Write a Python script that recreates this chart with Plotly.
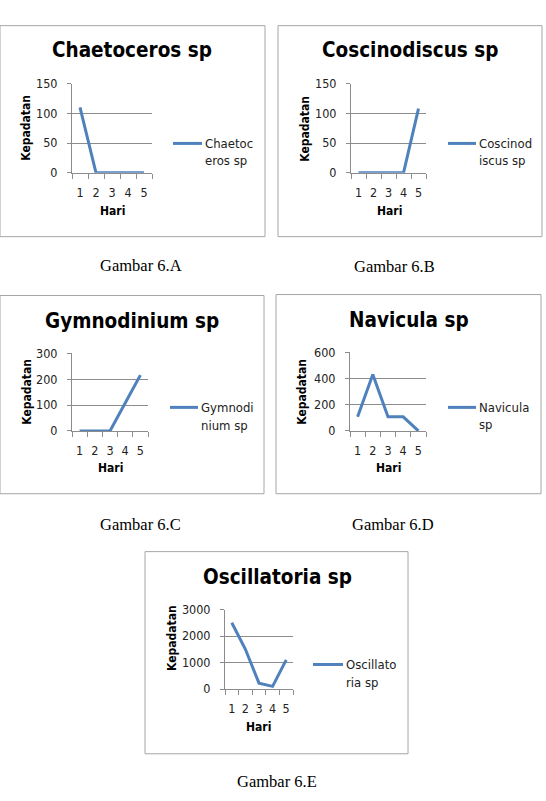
import plotly.graph_objects as go

W, H = 546, 801

days = [1, 2, 3, 4, 5]
day_labels = ["1", "2", "3", "4", "5"]

titles = ["Chaetoceros sp", "Coscinodiscus sp", "Gymnodinium sp", "Navicula sp", "Oscillatoria sp"]
legend_lines = [["Chaetoc", "eros sp"], ["Coscinod", "iscus sp"], ["Gymnodi", "nium sp"],
                ["Navicula", "sp"], ["Oscillato", "ria sp"]]
captions = ["Gambar 6.A", "Gambar 6.B", "Gambar 6.C", "Gambar 6.D", "Gambar 6.E"]

chaetoceros = [110, 0, 0, 0, 0]
coscinodiscus = [0, 0, 0, 0, 108]
gymnodinium = [0, 0, 0, 108, 216]
navicula = [108, 432, 108, 108, 0]
oscillatoria = [2500, 1500, 220, 100, 1100]
series = [chaetoceros, coscinodiscus, gymnodinium, navicula, oscillatoria]

y_max = [150, 150, 300, 600, 3000]
y_step = [50, 50, 100, 200, 1000]

# layout (pixels)
panels = [
    dict(box=(0, 18, 265, 233), plot=(72, 77, 152, 168), title=(132, 43), ytitle=(26, 122),
         xtitle=(112, 207), leg=(173, 202, 138, 155), cap=(141, 262)),
    dict(box=(278, 18, 542, 233), plot=(351, 77, 426, 168), title=(410, 43), ytitle=(305, 123),
         xtitle=(389, 207), leg=(448, 476, 138, 155), cap=(394, 263)),
    dict(box=(0, 293, 264, 495), plot=(72, 352, 148, 431), title=(132, 319), ytitle=(27, 391),
         xtitle=(110, 469), leg=(170, 198, 407, 425), cap=(140, 526)),
    dict(box=(276, 292, 541, 495), plot=(350, 351, 426, 431), title=(409, 318), ytitle=(302, 391),
         xtitle=(388, 469), leg=(448, 476, 407, 424), cap=(393, 526)),
    dict(box=(145, 554, 408, 760), plot=(225, 613, 293, 694), title=(277, 580), ytitle=(172, 642),
         xtitle=(258, 733), leg=(313, 343, 669, 687), cap=(277, 788)),
]

FONT = "DejaVu Sans Condensed, DejaVu Sans, sans-serif"
SERIF = "Liberation Serif, Times New Roman, serif"
BLUE = "#4F81BD"
GRID = "#8C8C8C"
BORDER = "#A6A6A6"


def px(x):
    return x / W


def py(y):
    return 1 - y / H


fig = go.Figure()
shapes = []
annotations = []
layout_axes = {}

for i, p in enumerate(panels):
    n = i + 1
    xa = "x" if n == 1 else f"x{n}"
    ya = "y" if n == 1 else f"y{n}"
    xk = "xaxis" if n == 1 else f"xaxis{n}"
    yk = "yaxis" if n == 1 else f"yaxis{n}"
    x0, y0, x1, y1 = p["plot"]

    fig.add_trace(go.Scatter(x=days, y=series[i], mode="lines", xaxis=xa, yaxis=ya,
                             line=dict(color=BLUE, width=3), showlegend=False,
                             hoverinfo="skip"))

    layout_axes[xk] = dict(domain=[px(x0), px(x1)], anchor=ya, range=[0.5, 5.5],
                           tickvals=days, ticktext=day_labels, ticks="",
                           showgrid=False, zeroline=False, showline=True,
                           linecolor=GRID, linewidth=1,
                           minor=dict(tick0=0.5, dtick=1, ticks="outside", ticklen=5,
                                      tickcolor=GRID, showgrid=False),
                           ticklabelstandoff=8,
                           tickfont=dict(family=FONT, size=12.5, color="#222"),
                           fixedrange=True)
    layout_axes[yk] = dict(domain=[py(y1), py(y0)], anchor=xa, range=[0, y_max[i]],
                           tick0=0, dtick=y_step[i], ticks="outside", ticklen=4,
                           tickcolor=GRID, showgrid=True, gridcolor=GRID, gridwidth=1,
                           zeroline=False, showline=True, linecolor=GRID, linewidth=1,
                           ticklabelstandoff=7,
                           tickfont=dict(family=FONT, size=12.5, color="#222"),
                           fixedrange=True)

    bx0, by0, bx1, by1 = p["box"]
    shapes.append(dict(type="rect", xref="paper", yref="paper", x0=px(bx0), x1=px(bx1),
                       y0=py(by1), y1=py(by0), line=dict(color=BORDER, width=1),
                       fillcolor="rgba(0,0,0,0)", layer="below"))
    lx0, lx1, ly, ly2 = p["leg"]
    shapes.append(dict(type="line", xref="paper", yref="paper", x0=px(lx0), x1=px(lx1),
                       y0=py(ly), y1=py(ly), line=dict(color=BLUE, width=3)))

    tx, ty = p["title"]
    annotations.append(dict(text=f"<b>{titles[i]}</b>", x=px(tx), y=py(ty), xref="paper",
                            yref="paper", showarrow=False, xanchor="center", yanchor="middle",
                            font=dict(family=FONT, size=20.5, color="#000")))
    yx, yy = p["ytitle"]
    annotations.append(dict(text="<b>Kepadatan</b>", x=px(yx), y=py(yy), xref="paper",
                            yref="paper", showarrow=False, xanchor="center", yanchor="middle",
                            textangle=-90, font=dict(family=FONT, size=12, color="#000")))
    hx, hy = p["xtitle"]
    annotations.append(dict(text="<b>Hari</b>", x=px(hx), y=py(hy), xref="paper",
                            yref="paper", showarrow=False, xanchor="center", yanchor="middle",
                            font=dict(family=FONT, size=12, color="#000")))
    for txt, yy_ in zip(legend_lines[i], (ly, ly2)):
        annotations.append(dict(text=txt, x=px(lx1 + 1), y=py(yy_), xref="paper",
                                yref="paper", showarrow=False, xanchor="left",
                                yanchor="middle",
                                font=dict(family=FONT, size=13, color="#222")))
    cx, cy = p["cap"]
    annotations.append(dict(text=captions[i], x=px(cx), y=py(cy), xref="paper",
                            yref="paper", showarrow=False, xanchor="center", yanchor="middle",
                            font=dict(family=SERIF, size=16.5, color="#000")))

fig.update_layout(width=W, height=H, margin=dict(l=0, r=0, t=0, b=0),
                  paper_bgcolor="white", plot_bgcolor="white",
                  shapes=shapes, annotations=annotations, showlegend=False,
                  **layout_axes)

fig.write_html("out.html", config={"displayModeBar": False})
